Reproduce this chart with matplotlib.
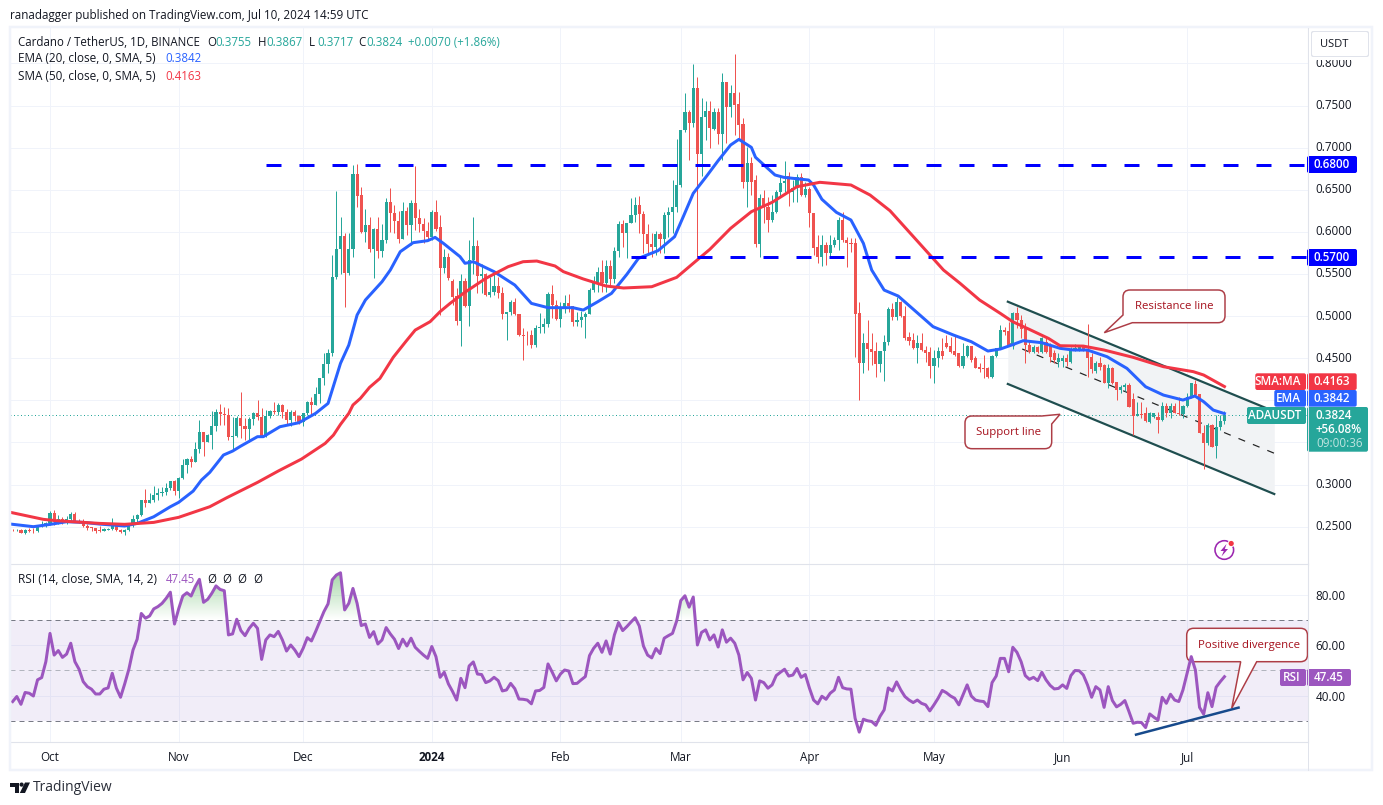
import numpy as np
import matplotlib
matplotlib.use("Agg")
from matplotlib import pyplot as plt
from matplotlib.patches import FancyBboxPatch, PathPatch, Polygon, Circle, Rectangle
from matplotlib.path import Path

plt.rcParams['font.family'] = ['Open Sans', 'DejaVu Sans']

W, H = 1383, 805

# days are counted from Oct 1 2023, one candle a day from Sep 22 2023 to Jul 10 2024
days = np.arange(-9, 284)

opens = [
    .2462,.2458,.2463,.2426,.2460,.2452,.2446,.2500,.2510,.2540,
    .2665,.2550,.2590,.2555,.2590,.2645,.2570,.2555,.2510,.2490,
    .2480,.2455,.2452,.2465,.2470,.2525,.2460,.2430,.2460,.2520,
    .2585,.2637,.2811,.2785,.2815,.2871,.2900,.2910,.2958,.3037,
    .2925,.3077,.3227,.3298,.3270,.3417,.3620,.3505,.3587,.3695,
    .3856,.3838,.3830,.3567,.3575,.3790,.3695,.3655,.3777,.3848,
    .3802,.3567,.3817,.3868,.3860,.3944,.3865,.3770,.3856,.3817,
    .3745,.3845,.3980,.3944,.4070,.4260,.4430,.4557,.5460,.5793,
    .5951,.5507,.5793,.6687,.6438,.6003,.6082,.5793,.6038,.5777,
    .5903,.6358,.6228,.6133,.5916,.6252,.6082,.6339,.6161,.6094,
    .6014,.5935,.6240,.6054,.5567,.5706,.5421,.5239,.4946,.5417,
    .5120,.5666,.5832,.5476,.5500,.5250,.5290,.5361,.5270,.5025,
    .5048,.5171,.5025,.4775,.4775,.4770,.4653,.4859,.4874,.4906,
    .5262,.5132,.4961,.5080,.5151,.5120,.4934,.4950,.4985,.5025,
    .5310,.5401,.5520,.5389,.5599,.5437,.5777,.6094,.5991,.6110,
    .6201,.6319,.6212,.5975,.5856,.5817,.5971,.5915,.6201,.6240,
    .6292,.6557,.7210,.7420,.7289,.7705,.6925,.7361,.7440,.7221,
    .7428,.7163,.7776,.7487,.7646,.7519,.7281,.6597,.6814,.6616,
    .5856,.6399,.6300,.6141,.6240,.6478,.6577,.6663,.6478,.6517,
    .6648,.6438,.6509,.6220,.5817,.5698,.5844,.5745,.5844,.5904,
    .6141,.5904,.5864,.5864,.5033,.4447,.4676,.4605,.4585,.4431,
    .4585,.4688,.5084,.4993,.5171,.5005,.4755,.4716,.4617,.4684,
    .4597,.4577,.4407,.4498,.4585,.4684,.4644,.4585,.4557,.4407,
    .4526,.4644,.4498,.4399,.4379,.4379,.4272,.4526,.4617,.4834,
    .4827,.4656,.5032,.4953,.4874,.4656,.4577,.4629,.4577,.4696,
    .4656,.4557,.4458,.4470,.4506,.4458,.4597,.4597,.4629,.4597,
    .4510,.4351,.4446,.4419,.4209,.4387,.4213,.4122,.4154,.4181,
    .4015,.3817,.3837,.3845,.3746,.3797,.3797,.3766,.3932,.3845,
    .3932,.3853,.3837,.3932,.4035,.4193,.4074,.3615,.3496,.3706,
    .3457,.3686,.3755,
]
closes = [
    .2458,.2462,.2426,.2460,.2452,.2446,.2500,.2510,.2540,.2665,
    .2550,.2590,.2555,.2590,.2645,.2570,.2555,.2510,.2480,.2480,
    .2450,.2452,.2467,.2470,.2525,.2460,.2430,.2460,.2520,.2585,
    .2637,.2811,.2785,.2815,.2871,.2900,.2910,.2958,.3037,.2925,
    .3077,.3227,.3298,.3270,.3417,.3620,.3505,.3587,.3695,.3856,
    .3838,.3830,.3567,.3575,.3790,.3695,.3655,.3777,.3848,.3802,
    .3567,.3817,.3868,.3860,.3944,.3865,.3770,.3856,.3817,.3745,
    .3845,.3980,.3944,.4070,.4260,.4430,.4557,.5460,.5793,.5951,
    .5507,.5793,.6687,.6426,.6003,.6082,.5793,.6038,.5777,.5903,
    .6351,.6228,.6133,.5916,.6252,.6082,.6339,.6161,.6094,.6014,
    .5935,.6240,.6030,.5567,.5706,.5448,.5231,.4946,.5417,.5120,
    .5666,.5832,.5476,.5500,.5250,.5290,.5361,.5270,.5025,.5048,
    .5171,.5025,.4775,.4763,.4770,.4653,.4859,.4874,.4906,.5262,
    .5132,.4961,.5080,.5151,.5120,.4934,.4950,.4985,.5025,.5310,
    .5401,.5520,.5389,.5599,.5437,.5777,.6094,.5991,.6110,.6201,
    .6319,.6212,.5975,.5856,.5817,.5971,.5915,.6201,.6240,.6292,
    .6557,.7210,.7420,.7289,.7705,.6925,.7361,.7440,.7230,.7428,
    .7163,.7776,.7487,.7646,.7507,.7270,.6597,.6822,.6597,.5856,
    .6399,.6300,.6141,.6240,.6478,.6577,.6608,.6478,.6517,.6648,
    .6438,.6509,.6220,.5805,.5698,.5844,.5745,.5844,.5904,.6141,
    .5904,.5864,.5860,.5025,.4447,.4676,.4605,.4577,.4431,.4585,
    .4688,.5084,.4993,.5171,.5005,.4743,.4708,.4617,.4684,.4597,
    .4565,.4407,.4498,.4585,.4526,.4636,.4577,.4537,.4407,.4526,
    .4644,.4478,.4387,.4367,.4370,.4272,.4526,.4617,.4834,.4815,
    .4656,.5032,.4953,.4842,.4656,.4577,.4629,.4577,.4735,.4577,
    .4510,.4478,.4498,.4498,.4458,.4597,.4625,.4629,.4597,.4498,
    .4367,.4438,.4391,.4209,.4387,.4201,.4122,.4154,.4181,.3916,
    .3817,.3837,.3830,.3754,.3845,.3845,.3766,.3932,.3845,.3932,
    .3853,.3837,.3932,.4035,.4201,.4063,.3615,.3496,.3706,.3449,
    .3686,.3757,.3824,
]
highs = [
    .2476,.2472,.2470,.2467,.2485,.2480,.2503,.2570,.2560,.2685,
    .2700,.2640,.2610,.2620,.2670,.2670,.2585,.2590,.2530,.2495,
    .2485,.2510,.2480,.2480,.2600,.2535,.2470,.2475,.2530,.2640,
    .2650,.2815,.2942,.2895,.2985,.2960,.2975,.3020,.3045,.3050,
    .3090,.3302,.3310,.3340,.3500,.3766,.3625,.3600,.3872,.3895,
    .3952,.3924,.3905,.3805,.3810,.4098,.3795,.3800,.3865,.4003,
    .3910,.3885,.3890,.3975,.3965,.3960,.3895,.3880,.3880,.3830,
    .3855,.3990,.4043,.4157,.4270,.4557,.4610,.5726,.6486,.6173,
    .5990,.5990,.6794,.6806,.6537,.6268,.6181,.6046,.6181,.6094,
    .6398,.6517,.6319,.6252,.6359,.6300,.6379,.6783,.6268,.6161,
    .6121,.6260,.6379,.6201,.5793,.5745,.5437,.5330,.5500,.5448,
    .5904,.6173,.5904,.5619,.5508,.5468,.5508,.5468,.5350,.5050,
    .5191,.5211,.5030,.4855,.4827,.4835,.4894,.5033,.4973,.5290,
    .5369,.5191,.5171,.5250,.5262,.5125,.5053,.5064,.5053,.5330,
    .5476,.5587,.5666,.5666,.5666,.5825,.6129,.6141,.6110,.6399,
    .6418,.6430,.6252,.6094,.5991,.6015,.6003,.6240,.6299,.6616,
    .7099,.7210,.7654,.7448,.7994,.7836,.7586,.7555,.7555,.7467,
    .7467,.7891,.7784,.7745,.8113,.7665,.7349,.7012,.6893,.6676,
    .6450,.6497,.6418,.6438,.6497,.6676,.6842,.6715,.6616,.6684,
    .6703,.6597,.6537,.6225,.5963,.5963,.5884,.5963,.5943,.6173,
    .6240,.5943,.5923,.5923,.5171,.4795,.4954,.4795,.4696,.4590,
    .4775,.5112,.5151,.5222,.5180,.5120,.4815,.4795,.4775,.4795,
    .4644,.4636,.4597,.4629,.4735,.4775,.4755,.4775,.4560,.4684,
    .4656,.4650,.4526,.4438,.4537,.4391,.4537,.4622,.4894,.4874,
    .4933,.5052,.5112,.5013,.4914,.4716,.4656,.4640,.4755,.4735,
    .4684,.4597,.4557,.4537,.4549,.4629,.4668,.4656,.4650,.4906,
    .4557,.4470,.4510,.4431,.4431,.4392,.4220,.4181,.4201,.4209,
    .4082,.3983,.3983,.3924,.3865,.3850,.3865,.3983,.3963,.3963,
    .3963,.4043,.3944,.4082,.4205,.4240,.4080,.3706,.3734,.3720,
    .3825,.3825,.3867,
]
lows = [
    .2442,.2444,.2424,.2410,.2436,.2424,.2440,.2490,.2490,.2520,
    .2520,.2530,.2530,.2530,.2570,.2560,.2540,.2490,.2460,.2450,
    .2420,.2440,.2445,.2455,.2455,.2445,.2420,.2405,.2450,.2500,
    .2560,.2630,.2736,.2775,.2790,.2820,.2860,.2875,.2940,.2880,
    .2840,.3060,.3132,.3210,.3265,.3378,.3338,.3500,.3421,.3639,
    .3710,.3706,.3528,.3417,.3560,.3555,.3530,.3510,.3710,.3770,
    .3560,.3560,.3790,.3840,.3830,.3790,.3720,.3700,.3760,.3720,
    .3700,.3830,.3830,.3940,.3970,.4180,.4328,.4526,.5440,.5500,
    .5111,.5490,.5700,.6300,.5983,.5884,.5765,.5448,.5686,.5706,
    .5864,.6003,.5983,.5864,.5912,.5963,.5844,.6022,.6003,.5864,
    .5904,.5904,.6015,.5013,.5508,.5429,.5132,.4894,.4645,.5112,
    .4882,.5500,.5270,.5270,.5239,.5231,.5250,.5211,.4961,.4716,
    .5013,.5013,.4764,.4479,.4657,.4617,.4629,.4795,.4795,.4874,
    .4973,.4953,.4874,.5033,.5053,.4882,.4882,.4874,.4736,.5025,
    .5290,.5290,.5290,.5290,.5349,.5389,.5706,.5825,.5686,.6110,
    .6121,.5983,.5745,.5745,.5698,.5725,.5745,.5745,.5943,.5983,
    .6240,.6537,.7190,.6854,.7242,.5706,.6664,.7091,.6992,.7210,
    .7044,.6854,.7052,.7368,.7151,.7111,.6517,.6300,.6438,.5817,
    .5706,.6102,.6003,.6121,.6220,.6418,.6478,.6312,.6359,.6351,
    .6430,.6418,.6062,.5725,.5627,.5595,.5607,.5700,.5824,.5785,
    .5880,.5587,.5765,.4510,.4003,.4320,.4360,.4419,.4280,.4340,
    .4233,.4660,.4953,.4953,.4990,.4716,.4656,.4610,.4446,.4590,
    .4458,.4260,.4201,.4399,.4486,.4617,.4557,.4526,.4399,.4379,
    .4510,.4458,.4380,.4340,.4260,.4260,.4260,.4520,.4610,.4775,
    .4644,.4605,.4854,.4735,.4439,.4557,.4565,.4565,.4565,.4557,
    .4458,.4446,.4399,.4399,.4407,.4446,.4590,.4590,.4590,.4272,
    .4320,.4328,.4359,.4201,.4142,.4190,.4003,.4090,.4115,.3916,
    .3587,.3810,.3785,.3746,.3726,.3790,.3615,.3755,.3805,.3785,
    .3845,.3830,.3785,.3925,.4023,.4053,.3607,.3180,.3469,.3440,
    .3310,.3647,.3717,
]
rsi = [
    37.6,39.6,36.5,41.2,40.9,39.8,46.2,47.1,53.4,64.6,
    56,57.8,55.1,56.4,60.7,53.4,50.4,45.5,43.5,42.5,
    40.6,40.6,42.5,43,48.8,42.9,39.3,44.6,50.4,58,
    62.3,72.5,70.6,71.5,74.3,75.2,76.5,78.5,80.9,68.3,
    74.3,79.4,80.7,79.4,83.1,86,76.9,78.1,80.5,83.4,
    82,81.5,64,64.4,70.2,65.7,63.7,66.6,68.6,66.6,
    54.3,62,64,63.3,65.4,62,57.6,60,58,55.4,
    58.7,62.9,61.6,65.3,69.3,73.2,76.3,85.8,87.7,88.6,
    73.9,76.5,82.4,76.5,67.7,68.3,63,65.3,60.4,62,
    66.9,64.4,62.3,58.6,62.3,59.6,62.7,59.1,57.5,56,
    54.7,59.4,55.4,47.2,49.2,44.6,41.6,38.2,46.8,43.1,
    51.7,53.3,48.5,48.3,45.1,45.8,47.2,45.9,41.8,42.2,
    44.8,42.7,38.6,38.5,38.2,36.7,41.8,42,43.2,52.5,
    49.3,45.8,48.5,50.1,49.7,44.7,44.8,46.2,47.5,55.8,
    58.7,60.7,57.1,61.6,56.4,64,68.9,65.7,67.3,69.1,
    70.8,67.5,59.6,56,54.9,58.6,56.6,62.7,63.7,64.6,
    69.5,77.6,79.5,75,79,60,65,66,62,64,
    59.2,66,61.1,62.7,60.7,56,46.2,49.1,46.8,38.2,
    45.8,45.1,42.9,44.2,47.9,49.2,50.4,47.7,48.1,50.7,
    47.2,48.3,42.9,38.2,36.7,39.7,38.5,40.9,42.2,47.2,
    43.1,42.6,42.5,31,25.5,30.6,30,29.7,28.2,31.7,
    34.3,43,41.8,45.4,42.2,39.6,38.2,37.2,38.2,36.9,
    36.3,33.9,36.3,38.9,42,41.1,39.8,38.9,36.3,40.2,
    44.2,39.8,38.2,37.8,37.6,35.6,45.1,47.7,54.7,54.7,
    49.4,59.1,57.1,53.4,47.9,46.4,47.2,45.9,49.2,46.2,
    44,42.6,42.8,44.2,42.8,47.9,49.9,49.8,48.1,44.2,
    39.3,43.5,42.2,35.3,43.5,38,35.5,36.5,38,33.6,
    29,29.4,29.3,27.3,32.7,31.4,30.3,39.3,36.9,40.5,
    38.2,37.6,42.2,48.8,55.4,50.1,35.3,32.6,41.1,35.6,
    43.3,45.5,47.45,
]

# moving averages at their turning points
ema_days = [-9.5,-4,0,4,8,12,18,21,25,29,31,34.5,36.5,38.5,41.8,44,46,50,51.4,55.4,60,64,67,70,72,74,76,
            80,82,84.4,87.5,91,92.8,94.8,98.8,100,102,107,112,116,120,126,128.5,132,135.3,139,141.8,146.5,
            150.5,152.6,155,158,161,164,166,169,170,174.7,176.8,182.8,184,186,189.5,193,196,198,201,204.4,
            212.8,217.7,222,226,229,231.7,234.5,239,243.4,246.6,250,254.7,259.5,264,268.3,273,275.9,278,280.3,283]
ema_vals = [.2530,.2499,.2526,.2558,.2550,.2530,.2507,.2538,.2617,.2736,.2788,.2922,.3053,.3144,.3350,.3397,.3457,
            .3568,.3568,.3686,.3734,.3845,.3963,.4439,.4656,.5013,.5191,.5408,.5547,.5765,.5872,.5896,.5935,.5864,
            .5706,.5627,.5646,.5528,.5369,.5151,.5100,.5100,.5072,.5171,.5270,.5496,.5686,.5777,.5943,.6181,.6458,
            .6648,.6846,.7032,.7099,.7004,.6886,.6676,.6648,.6616,.6557,.6387,.6232,.6141,.5864,.5547,.5309,.5238,
            .4874,.4775,.4696,.4585,.4609,.4656,.4708,.4684,.4617,.4597,.4597,.4518,.4379,.4161,.4062,.4003,.4051,
            .3983,.3884,.3842]
sma_days = [-9.5,-1.6,1.6,12,18,25,31,38.5,42.6,50,55,60.6,66.3,68.3,70,72,73,74.8,77,79.5,82.7,85.9,88,91.6,94,96.4,
            99.6,102,105,110.4,114,117.3,121.7,123.7,128.5,134,138.2,145,151,155,159,164,169,174,180,185.5,193,197.6,
            202.4,215.3,219.3,224,229,232,236,240.6,243.4,249,254,261,268.3,275.5,278,283]
sma_vals = [.2669,.2586,.2570,.2538,.2527,.2550,.2610,.2736,.2843,.3025,.3160,.3302,.3488,.3587,.3714,.3845,.3944,
            .4023,.4154,.4260,.4510,.4708,.4834,.4934,.5053,.5151,.5270,.5349,.5448,.5587,.5646,.5654,.5595,.5528,
            .5441,.5357,.5334,.5349,.5460,.5627,.5793,.6042,.6240,.6351,.6537,.6589,.6557,.6438,.6252,.5547,.5389,
            .5191,.5032,.4933,.4842,.4735,.4648,.4644,.4597,.4510,.4399,.4340,.4300,.4163]

month_days = [0, 31, 61, 92, 123, 152, 183, 213, 244, 274]
month_labels = ['Oct', 'Nov', 'Dec', '2024', 'Feb', 'Mar', 'Apr', 'May', 'Jun', 'Jul']
price_ticks = [.25, .30, .35, .40, .45, .50, .55, .60, .65, .70, .75, .80]
price_labels = ['0.2500', '0.3000', '', '', '0.4500', '0.5000', '0.5500', '0.6000', '0.6500', '0.7000', '0.7500', '0.8000']
rsi_ticks = [40, 60, 80]
rsi_labels = ['40.00', '60.00', '80.00']

levels = [(0.68, 52.0), (0.57, 140.0)]  # price, first day of the dashed line
channel_days = [230.8, 295.0]
channel_top = [.5171, .3868]
channel_mid = [.4680, .3371]
channel_low = [.4194, .2887]
divergence_days = [261.7, 286.4]
divergence_rsi = [24.5, 35.2]
last_close = 0.3824

GREEN, RED = '#26a69a', '#ef5350'
BLUE, SMA_RED = '#2962ff', '#f23645'
PURPLE = '#9c56bf'
GRID = '#f0f3fa'
LINE = '#e0e3eb'
TEXT = '#131722'
CALLOUT = '#ad3d46'
CALLOUT_TEXT = '#a5101c'


def px(v):
    return v * 0.72


def box(l, t, r, b):
    return [l / W, 1 - b / H, (r - l) / W, (b - t) / H]


def style_pane(ax):
    for s in ax.spines.values():
        s.set_visible(False)
    ax.spines['right'].set_visible(True)
    ax.spines['right'].set_color(LINE)
    ax.yaxis.tick_right()
    ax.tick_params(length=0, labelsize=8.4, labelcolor=TEXT, pad=5.5)
    ax.grid(True, color=GRID, lw=px(1))
    ax.set_axisbelow(True)
    ax.set_xticks(month_days)
    ax.set_xlim((10 - 50) / 4.15, (1308 - 50) / 4.15)


fig = plt.figure(figsize=(W / 100, H / 100), dpi=100, facecolor='white')
ax = fig.add_axes(box(10, 28, 1308, 563.5))
ax_rsi = fig.add_axes(box(10, 563.5, 1308, 742))
ov = fig.add_axes([0, 0, 1, 1], zorder=10)
ov.set_xlim(0, W)
ov.set_ylim(H, 0)
ov.axis('off')
ov.patch.set_alpha(0)

# price pane
style_pane(ax)
ax.set_ylim(.30 + (484.5 - 563.5) / 842, .30 + (484.5 - 28) / 842)
ax.set_yticks(price_ticks)
ax.set_yticklabels(price_labels)
ax.tick_params(axis='x', labelbottom=False)
for t in ax.get_yticklabels():
    t.set_va('center')

o, h, l, c = map(np.array, (opens, highs, lows, closes))
colors = np.where(c >= o, GREEN, RED)
ax.fill_between(channel_days, channel_low, channel_top, color='#f1f3f5', lw=0, zorder=1)
ax.axhline(last_close, color=GREEN, lw=px(1), ls=(0, (1, 2.5)), zorder=1.5)
ax.plot(channel_days, channel_top, color='#1f4e4f', lw=px(2.2), zorder=2)
ax.plot(channel_days, channel_low, color='#1f4e4f', lw=px(2.2), zorder=2)
ax.plot(channel_days, channel_mid, color='#222222', lw=px(1.2), ls=(0, (6, 7)), zorder=2)
ax.vlines(days, l, h, colors=colors, lw=px(1), zorder=3)
ax.bar(days, np.maximum(np.abs(c - o), 0.0006), bottom=np.minimum(o, c), width=0.75, color=colors, lw=0, zorder=3)
ax.plot(ema_days, ema_vals, color=BLUE, lw=px(3), zorder=4, solid_joinstyle='round')
ax.plot(sma_days, sma_vals, color=SMA_RED, lw=px(3), zorder=4, solid_joinstyle='round')
for price, start in levels:
    ax.plot([start, 304], [price, price], color='#0000ff', lw=px(3), ls=(0, (5, 6)), zorder=5)

# rsi pane
style_pane(ax_rsi)
ax_rsi.set_ylim(80 - (742 - 594.5) / 2.525, 80 + (594.5 - 563.5) / 2.525)
ax_rsi.set_yticks(rsi_ticks)
ax_rsi.set_yticklabels(rsi_labels)
ax_rsi.set_xticklabels(month_labels)
ax_rsi.tick_params(axis='x', pad=6.5)
ax_rsi.get_xticklabels()[3].set_fontweight('bold')
ax_rsi.spines['bottom'].set_visible(True)
ax_rsi.spines['bottom'].set_color(LINE)
ax_rsi.spines['top'].set_visible(True)
ax_rsi.spines['top'].set_color(LINE)

ax_rsi.axhspan(30, 70, color='#7e57c2', alpha=0.1, lw=0, zorder=1)
ax_rsi.axhline(70, color='#787b86', lw=px(1), ls=(0, (5, 4)), zorder=2)
ax_rsi.axhline(50, color='#b2b5be', lw=px(1), ls=(0, (5, 4)), zorder=2)
ax_rsi.axhline(30, color='#787b86', lw=px(1), ls=(0, (5, 4)), zorder=2)

# green gradient over 70
top = ax_rsi.fill_between(days, 70, rsi, where=np.array(rsi) > 70, interpolate=True, color='none', lw=0)
rgba = np.zeros((64, 1, 4))
rgba[..., 0], rgba[..., 1], rgba[..., 2] = 0.30, 0.69, 0.31
rgba[:, 0, 3] = np.linspace(0, 0.5, 64)
img = ax_rsi.imshow(rgba, extent=[days[0], days[-1], 70, 89], origin='lower', aspect='auto', zorder=2)
img.set_clip_path(Path.make_compound_path(*top.get_paths()), transform=ax_rsi.transData)
ax_rsi.set_xlim((10 - 50) / 4.15, (1308 - 50) / 4.15)
ax_rsi.set_ylim(80 - (742 - 594.5) / 2.525, 80 + (594.5 - 563.5) / 2.525)


def rounded(points, radius=7):
    # points are (x, y, round this corner or not), walked round the shape
    verts, codes = [], []
    n = len(points)
    for i, (x, y, r) in enumerate(points):
        if r:
            px0, py0, _ = points[i - 1]
            px1, py1, _ = points[(i + 1) % n]
            d0 = np.hypot(px0 - x, py0 - y)
            d1 = np.hypot(px1 - x, py1 - y)
            a = (x + (px0 - x) * radius / d0, y + (py0 - y) * radius / d0)
            b = (x + (px1 - x) * radius / d1, y + (py1 - y) * radius / d1)
            verts += [a, (x, y), b]
            codes += [Path.LINETO, Path.CURVE3, Path.CURVE3]
        else:
            verts.append((x, y))
            codes.append(Path.LINETO)
    codes[0] = Path.MOVETO
    verts.append(verts[0])
    codes.append(Path.CLOSEPOLY)
    return Path(verts, codes)


# the divergence note sits under the rsi line
note = PathPatch(rounded([(1186.7, 628.3, True), (1307.5, 628.3, True), (1307.5, 661.7, True), (1256.7, 661.7, False),
                          (1231.7, 708.3, False), (1240.7, 661.7, False), (1186.7, 661.7, True)]),
                 facecolor='white', edgecolor=CALLOUT, lw=px(1.5), transform=ov.transData, zorder=2.5, clip_on=False)
ax_rsi.add_patch(note)
ax_rsi.plot(divergence_days, divergence_rsi, color='#174a8c', lw=px(2.5), zorder=6)
ax_rsi.plot(days, rsi, color=PURPLE, lw=px(3), zorder=5, solid_joinstyle='round')
ov.text(1249, 645, 'Positive divergence', color=CALLOUT_TEXT, fontsize=8.2, ha='center', va='center')

# callouts on the price pane
ov.add_patch(PathPatch(rounded([(1123, 290, True), (1225, 290, True), (1225, 322.7, True), (1132.3, 322.7, False),
                                (1104.3, 332.7, False), (1123, 315, False)]),
                       facecolor='white', edgecolor=CALLOUT, lw=px(1.5)))
ov.text(1174, 306, 'Resistance line', color=CALLOUT_TEXT, fontsize=8.2, ha='center', va='center')
ov.add_patch(PathPatch(rounded([(965, 416, True), (1041.7, 416, False), (1060, 414.3, False), (1051.7, 424, False),
                                (1051.7, 448.7, True), (965, 448.7, True)]),
                       facecolor='white', edgecolor=CALLOUT, lw=px(1.5)))
ov.text(1008, 432, 'Support line', color=CALLOUT_TEXT, fontsize=8.2, ha='center', va='center')


def tag(x0, y0, x1, y1, color):
    ov.add_patch(FancyBboxPatch((x0, y0), x1 - x0, y1 - y0, boxstyle='round,pad=0,rounding_size=2',
                                facecolor=color, edgecolor='none'))


def label(x, y, s, color=TEXT, size=8.4, ha='left', **kw):
    ov.text(x, y, s, color=color, fontsize=size, ha=ha, va='center', **kw)


# outer frame, currency box
ov.add_patch(Rectangle((10, 27), 1362, 743, fill=False, edgecolor=GRID, lw=px(2.5)))
ov.plot([1308, 1308], [28, 770], color=LINE, lw=px(1))
ov.add_patch(Rectangle((1309, 29), 61, 31, facecolor='white', edgecolor='none'))
tag(1311, 31, 1369, 57, LINE)
tag(1312, 32, 1368, 56, 'white')
label(1320, 44.5, 'USDT', size=8)

# price tags
for y0, s in [(156, '0.6800'), (249, '0.5700')]:
    tag(1307, y0, 1357, y0 + 17, '#0000ff')
    label(1332, y0 + 8, s, color='white', ha='center', fontweight='semibold')
tag(1255.3, 373.3, 1306, 390, SMA_RED)
tag(1307, 373.3, 1356.7, 390, SMA_RED)
label(1301, 381.5, 'SMA:MA', color='white', ha='right', fontweight='semibold')
label(1332, 381.5, '0.4163', color='white', ha='center', fontweight='semibold')
tag(1274.3, 390, 1306, 406.7, BLUE)
tag(1307, 390, 1356.7, 406.7, BLUE)
label(1301, 398.5, 'EMA', color='white', ha='right', fontweight='semibold')
label(1332, 398.5, '0.3842', color='white', ha='center', fontweight='semibold')
tag(1247, 407, 1306, 424, GREEN)
tag(1307, 407, 1368, 451.7, GREEN)
label(1301, 415.5, 'ADAUSDT', color='white', ha='right', fontweight='semibold')
label(1316, 415.5, '0.3824', color='white', fontweight='semibold')
label(1316, 429.5, '+56.08%', color='white', fontweight='semibold')
label(1316, 443.5, '09:00:36', color='#bfe4e0')
tag(1280, 669, 1306, 686, PURPLE)
tag(1307, 669, 1351, 686, PURPLE)
label(1301, 677.5, 'RSI', color='white', ha='right', fontweight='semibold')
label(1329, 677.5, '47.45', color='white', ha='center', fontweight='semibold')

# header and legends
label(10, 15, 'ranadagger published on TradingView.com, Jul 10, 2024 14:59 UTC', size=8.35)
label(18, 42, 'Cardano / TetherUS, 1D, BINANCE', size=8.3)
for x, letter, value in [(207, 'O', '0.3755'), (258, 'H', '0.3867'), (309, 'L', '0.3717'), (358, 'C', '0.3824')]:
    label(x, 42, letter, size=8.3)
    label(x + 8, 42, value, color=GREEN, size=8.3)
label(408, 42, '+0.0070 (+1.86%)', color=GREEN, size=8.3)
label(18, 59, 'EMA (20, close, 0, SMA, 5)', size=8.45)
label(165, 59, '0.3842', color=BLUE, size=8.3)
label(18, 76, 'SMA (50, close, 0, SMA, 5)', size=8.45)
label(165, 76, '0.4163', color=SMA_RED, size=8.3)
label(18, 579, 'RSI (14, close, SMA, 14, 2)', size=8.6)
label(166, 579, '47.45', color=PURPLE, size=8.3)
for x in [207, 222, 237, 253]:
    label(x, 579, 'Ø', size=8.3)

# TradingView mark, bottom left
logo = '#131722'
ov.add_patch(Polygon([(10, 782.5), (19, 782.5), (19, 793), (14.5, 793), (14.5, 786.5), (10, 786.5)], color=logo, lw=0))
ov.add_patch(Circle((21.6, 784.6), 2.1, color=logo, lw=0))
ov.add_patch(Polygon([(25, 782.5), (30, 782.5), (25, 793), (19.8, 793)], color=logo, lw=0))
label(33, 787, 'TradingView', color='#2a2e39', size=10)

# small icon over the rsi pane
ov.add_patch(Circle((1224.3, 550), 9.3, fill=False, edgecolor='#9c27b0', lw=px(1.6)))
ov.add_patch(Polygon([(1226.5, 544), (1220.5, 551), (1223.8, 551), (1221.5, 556.5), (1228, 549), (1224.8, 549)],
                     color='#9c27b0', lw=0))
ov.add_patch(Circle((1231.2, 543.5), 3.6, color='white', lw=0))
ov.add_patch(Circle((1231.2, 543.5), 2.6, color=SMA_RED, lw=0))

fig.savefig('out.png', dpi=100)
